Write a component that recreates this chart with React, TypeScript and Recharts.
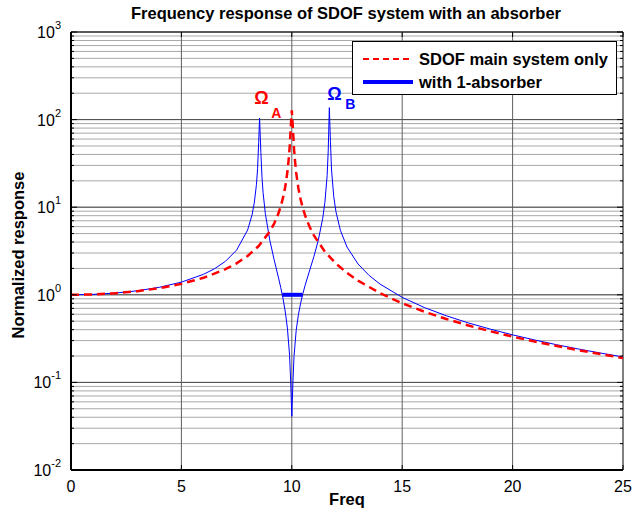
import React from "react";
import {
  LineChart, Line, XAxis, YAxis, CartesianGrid, Legend,
  ReferenceLine, ReferenceArea, ReferenceDot
} from "recharts";

// SDOF main system only
const freqMain = [
  0, 1, 2, 3, 4, 5, 6, 7, 7.5, 8, 8.5, 9, 9.2, 9.4, 9.5, 9.6, 9.7, 9.8,
  9.85, 9.9, 9.95, 10, 10.05, 10.1, 10.15, 10.2, 10.3, 10.4, 10.5, 10.6,
  10.8, 11, 11.5, 12, 12.5, 13, 14, 15, 16, 17, 18, 19, 20, 21, 22, 23, 24, 25,
];
const respMain = [
  1.0, 1.01, 1.042, 1.099, 1.19, 1.333, 1.563, 1.961, 2.286, 2.778, 3.604,
  5.263, 6.49, 8.58, 10.26, 12.76, 16.92, 25.2, 33.4, 46.9, 79, 128, 78.6,
  46.5, 32.9, 24.6, 16.4, 12.25, 9.76, 8.09, 6.01, 4.76, 3.1, 2.27, 1.78,
  1.449, 1.042, 0.8, 0.641, 0.529, 0.446, 0.383, 0.333, 0.293, 0.26, 0.233,
  0.21, 0.19,
];

// with 1-absorber (thin blue curve)
const freqAbs = [
  0, 1, 2, 3, 4, 5, 6, 6.5, 7, 7.5, 8, 8.2, 8.3, 8.4, 8.45, 8.5, 8.54, 8.6,
  8.65, 8.7, 8.8, 9, 9.2, 9.4, 9.5, 9.6, 9.7, 9.8, 9.9, 9.95, 10, 10.05,
  10.1, 10.2, 10.3, 10.4, 10.5, 10.6, 10.8, 11, 11.2, 11.4, 11.5, 11.6,
  11.65, 11.7, 11.75, 11.8, 11.9, 12, 12.2, 12.5, 13, 13.5, 14, 15, 16, 17,
  18, 19, 20, 21, 22, 23, 24, 25,
];
const respAbs = [
  1.0, 1.011, 1.046, 1.111, 1.218, 1.395, 1.713, 1.983, 2.416, 3.237, 5.49,
  8.17, 11.15, 18.3, 27.5, 55, 104, 42, 22, 14.65, 8.5, 4.23, 2.516, 1.556,
  1.208, 0.912, 0.652, 0.419, 0.204, 0.101, 0.041, 0.099, 0.198, 0.395,
  0.595, 0.804, 1.028, 1.273, 1.871, 2.731, 4.19, 7.45, 11.4, 22.9, 44, 137,
  56, 26.6, 13.2, 8.87, 5.45, 3.51, 2.247, 1.664, 1.323, 0.935, 0.716, 0.576,
  0.477, 0.405, 0.349, 0.305, 0.269, 0.24, 0.216, 0.195,
];

// thick bar where response stays below 1
const freqBand = [9.57, 10.48];
const respBand = [1, 1];

const xTicks = [0, 5, 10, 15, 20, 25];
const decades = [0.01, 0.1, 1, 10, 100, 1000];
const decadeExp = ["-2", "-1", "0", "1", "2", "3"];
const minorMult = [1, 2, 3, 4, 5, 6, 7, 8, 9];

const yTicks: number[] = [];
decades.slice(0, -1).forEach(d => minorMult.forEach(m => yTicks.push(+(d * m).toPrecision(3))));
yTicks.push(1000);

const mainData = freqMain.map((f, i) => ({ f, v: respMain[i] }));
const absData = freqAbs.map((f, i) => ({ f, v: respAbs[i] }));
const bandData = freqBand.map((f, i) => ({ f, v: respBand[i] }));

const W = 634, H = 520;
const MARGIN = { top: 32, right: 11, bottom: 0, left: 21 };
const PLOT_RIGHT = W - MARGIN.right;
const PLOT_TOP = MARGIN.top;
const FONT = "'Liberation Sans', Arial, Helvetica, sans-serif";

const YTick = (props: any) => {
  const { x, y, payload } = props;
  const idx = decades.indexOf(payload.value);
  const len = idx >= 0 ? 6 : 3;
  return (
    <g>
      <line x1={x} x2={x + len} y1={y} y2={y} stroke="#000" />
      <line x1={PLOT_RIGHT} x2={PLOT_RIGHT - len} y1={y} y2={y} stroke="#000" />
      {idx >= 0 && (
        <text x={x - 10} y={y + 6} textAnchor="end" fontSize={16}
          fontFamily={FONT} fill="#000">
          10<tspan dy={-9} fontSize={11}>{decadeExp[idx]}</tspan>
        </text>
      )}
    </g>
  );
};

const XTick = (props: any) => {
  const { x, y, payload } = props;
  return (
    <g>
      <line x1={x} x2={x} y1={y} y2={y - 5} stroke="#000" />
      <line x1={x} x2={x} y1={PLOT_TOP} y2={PLOT_TOP + 5} stroke="#000" />
      <text x={x} y={y + 22} textAnchor="middle" fontSize={16}
        fontFamily={FONT} fill="#000">{payload.value}</text>
    </g>
  );
};

const XLabel = (props: any) => {
  const vb = props.viewBox;
  return (
    <text x={vb.x + vb.width / 2} y={vb.y + 35} textAnchor="middle"
      fontSize={16.5} fontWeight="bold" fontFamily={FONT} fill="#000">Freq</text>
  );
};

const YLabel = (props: any) => {
  const vb = props.viewBox;
  const cy = vb.y + vb.height / 2 + 4;
  return (
    <text x={24} y={cy} transform={`rotate(-90 24 ${cy})`} textAnchor="middle"
      fontSize={16.5} fontWeight="bold" fontFamily={FONT} fill="#000">
      Normalized response
    </text>
  );
};

const omegaShape = (sub: string, color: string, subDx: number, subDy: number) =>
  (props: any) => (
    <g>
      <text x={props.cx} y={props.cy} fontSize={18} fontWeight="bold"
        fontFamily={FONT} fill={color}>Ω</text>
      <text x={props.cx + subDx} y={props.cy + subDy} fontSize={14}
        fontWeight="bold" fontFamily={FONT} fill={color}>{sub}</text>
    </g>
  );

const LegendBox = () => (
  <div style={{
    width: 263, height: 52, border: "1px solid #000", background: "#fff",
    fontFamily: FONT, fontWeight: "bold", fontSize: 16.5, color: "#000",
    position: "relative",
  }}>
    <svg width={263} height={52} style={{ position: "absolute", left: 0, top: 0 }}>
      <line x1={10} x2={60} y1={17} y2={17} stroke="#ff0000" strokeWidth={2}
        strokeDasharray="6 4" />
      <line x1={10} x2={60} y1={40} y2={40} stroke="#0000ff" strokeWidth={4} />
      <text x={66} y={23} fontSize={16.5} fontWeight="bold" fontFamily={FONT}>
        SDOF main system only
      </text>
      <text x={66} y={46} fontSize={16.5} fontWeight="bold" fontFamily={FONT}>
        with 1-absorber
      </text>
    </svg>
  </div>
);

export default function App() {
  return (
    <div style={{ position: "absolute", left: 0, top: 0, width: W, height: H, background: "#fff" }}>
      <LineChart width={W} height={H} margin={MARGIN}>
        <text x={346} y={19} textAnchor="middle" fontSize={16.5} fontWeight="bold"
          fontFamily={FONT} fill="#000">
          Frequency response of SDOF system with an absorber
        </text>
        <CartesianGrid vertical={false} stroke="#a8a8a8" />
        {decades.map(d => (
          <ReferenceLine key={d} y={d} stroke="#4a4a4a" />
        ))}
        {xTicks.slice(1, -1).map(t => (
          <ReferenceLine key={t} x={t} stroke="#606060" />
        ))}
        <XAxis dataKey="f" type="number" domain={[0, 25]} ticks={xTicks}
          allowDataOverflow height={50} tickSize={0} tickMargin={0}
          tick={<XTick />} axisLine={{ stroke: "#000", strokeWidth: 2 }}
          label={<XLabel />} />
        <YAxis type="number" scale="log" domain={[0.01, 1000]} ticks={yTicks}
          allowDataOverflow width={50} tickSize={0} tickMargin={0}
          tick={<YTick />} interval={0}
          axisLine={{ stroke: "#000", strokeWidth: 2 }} label={<YLabel />} />
        <ReferenceArea x1={0} x2={25} y1={0.01} y2={1000} fill="none"
          stroke="#000" strokeWidth={1} />
        <Line data={absData} dataKey="v" type="linear" stroke="#0000ff"
          strokeWidth={1} dot={false} isAnimationActive={false} />
        <Line data={bandData} dataKey="v" type="linear" stroke="#0000ff"
          strokeWidth={4} dot={false} isAnimationActive={false} />
        <Line data={mainData} dataKey="v" type="linear" stroke="#ff0000"
          strokeWidth={2.5} strokeDasharray="8 5" dot={false}
          isAnimationActive={false} />
        <ReferenceDot x={8.3} y={150} r={0}
          shape={omegaShape("A", "#ff0000", 17, 13.5)} />
        <ReferenceDot x={11.6} y={167} r={0}
          shape={omegaShape("B", "#0000ff", 18, 9)} />
        <Legend layout="horizontal" verticalAlign="middle" align="center"
          content={<LegendBox />}
          wrapperStyle={{ position: "absolute", left: 352, top: 41, width: 265, height: 54 }} />
      </LineChart>
    </div>
  );
}
